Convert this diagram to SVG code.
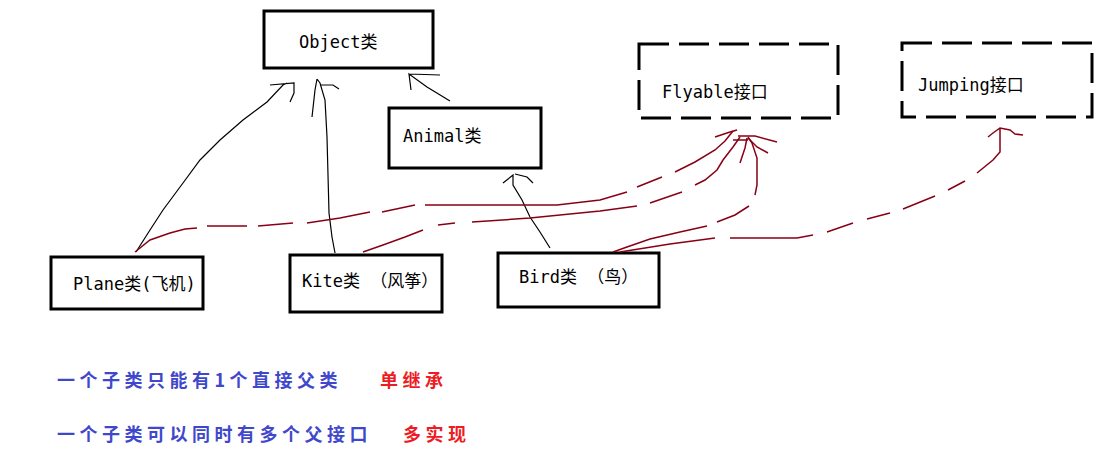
<svg xmlns="http://www.w3.org/2000/svg" width="1113" height="462" viewBox="0 0 1113 462">
<style>
.box{fill:none;stroke:#000;stroke-width:3}
.dbox{fill:none;stroke:#000;stroke-width:3;stroke-dasharray:30 10}
.lbl{font-family:"DejaVu Sans Mono","Noto Sans CJK SC",monospace;font-size:17px;fill:#000}
.inh{fill:none;stroke:#000;stroke-width:1.2}
.impl{fill:none;stroke:#880015;stroke-width:1.5}
.note{font-family:"Noto Sans CJK SC",sans-serif;font-size:18px;font-weight:bold;letter-spacing:4.5px}
.blue{fill:#3f48cc}
.red{fill:#ed1c24}
</style>
<rect width="1113" height="462" fill="#fff"/>
<g id="object"><rect class="box" x="264" y="11" width="169" height="57"/><text class="lbl" x="299" y="48">Object类</text></g>
<g id="animal"><rect class="box" x="389" y="108" width="152" height="60"/><text class="lbl" x="403" y="142">Animal类</text></g>
<g id="flyable"><rect class="dbox" x="639" y="44" width="199" height="74"/><text class="lbl" x="662" y="98">Flyable接口</text></g>
<g id="jumping"><rect class="dbox" x="902" y="43" width="190" height="74"/><text class="lbl" x="918" y="91">Jumping接口</text></g>
<g id="plane"><rect class="box" x="51" y="257" width="152" height="52"/><text class="lbl" x="73" y="290">Plane类(飞机)</text></g>
<g id="kite"><rect class="box" x="290" y="255" width="152" height="57"/><text class="lbl" x="302" y="287">Kite类 （风筝）</text></g>
<g id="bird"><rect class="box" x="498" y="253" width="161" height="54"/><text class="lbl" x="519" y="283">Bird类 （鸟）</text></g>
<g id="connectors">
<path class="inh" d="M136,252 L150,230 L163,210 L183,183 L200,160 L220,140 L243,120 L267,102 L283,85 L287,83 M270,85 L294,83 L294,93 L290,102"/>
<path class="inh" d="M335,253 L332,237 L329,213 L327,137 L325,100 L320,83 L317,79 M317,79 L315,90 L312,117 M320,85 L333,85 L339,89"/>
<path class="inh" d="M450,101 L427,87 L409,74 L411,90 M409,74 L440,75"/>
<path class="inh" d="M550,248 L540,232 L530,217 L522,200 L513,185 L513,175 L503,183 M515,174 L527,177 L533,183"/>
<path class="impl" d="M135,252 L150,240 L170,233 L185,229 L197,228 M207,226 L247,226 M258,226 L293,223 M307,223 L340,218 L370,212 M382,212 L415,205 M425,205 L557,205 L600,200 L627,192 M637,187 L662,177 M675,172 L695,162 L715,150 L725,141 L733,131"/>
<path class="impl" d="M363,252 L383,245 L405,237 L423,230 M438,225 L455,223 M472,222 L530,218 L600,211 L637,206 M650,203 L682,192 M695,185 L705,180 L717,170 L723,160 L733,147 L740,137"/>
<path class="impl" d="M613,252 L627,247 L650,239 L680,232 L707,226 M717,222 L735,215 L749,206 M755,195 L757,185 L757,158 L752,143 L748,137"/>
<path class="impl" d="M715,137 L730,132 L737,130 M738,136 L755,136 L777,142 M733,140 L748,140 M748,138 L757,147 L768,153 M740,163 L745,148 L747,138"/>
<path class="impl" d="M620,252 L670,244 L715,238 M730,238 L797,238 L813,235 M827,232 L853,223 M867,219 L890,213 M903,209 L935,196 M948,190 L965,181 M977,173 L993,160 L1000,152 L1000,128 M988,137 L993,133 L1000,128 L1010,130 L1015,134 L1023,135"/>
</g>
<g id="notes">
<text class="note" y="387"><tspan class="blue" x="57">一个子类只能有1个直接父类</tspan><tspan class="red" x="380">单继承</tspan></text>
<text class="note" y="441"><tspan class="blue" x="57">一个子类可以同时有多个父接口</tspan><tspan class="red" x="403">多实现</tspan></text>
</g>
</svg>
